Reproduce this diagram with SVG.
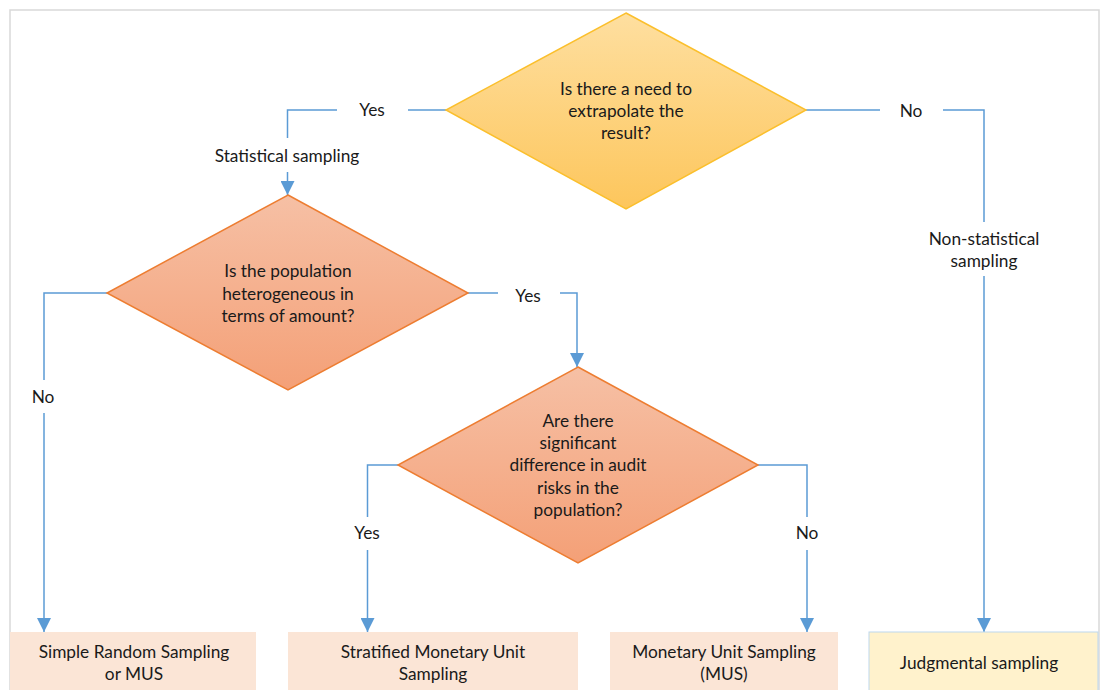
<svg xmlns="http://www.w3.org/2000/svg" width="1103" height="690" viewBox="0 0 1103 690">
  <style>
    text { font-family: Lato, "Liberation Sans", sans-serif; font-size: 17.3px; fill: #1a1a1a; text-anchor: middle; }
    .wire { fill: none; stroke: #5b9bd5; stroke-width: 1.5; }
    .box { fill: #fbe5d6; stroke: none; }
  </style>
  <defs>
    <linearGradient id="gold" x1="0" y1="0" x2="0" y2="1">
      <stop offset="0" stop-color="#fedfa0"/>
      <stop offset="1" stop-color="#fdc65c"/>
    </linearGradient>
    <linearGradient id="salmon" x1="0" y1="0" x2="0" y2="1">
      <stop offset="0" stop-color="#f6c0a5"/>
      <stop offset="1" stop-color="#f4a077"/>
    </linearGradient>
    <marker id="arrow" viewBox="0 0 14 14" refX="14" refY="7" markerWidth="14" markerHeight="14" markerUnits="userSpaceOnUse" orient="auto">
      <path d="M0,0 L14,7 L0,14 Z" fill="#5b9bd5"/>
    </marker>
  </defs>

  <rect x="10" y="10" width="1089" height="690" fill="#ffffff" stroke="#d9d9d9" stroke-width="1.5"/>

  <g id="connectors">
    <!-- top decision, Yes branch -->
    <path class="wire" d="M446,110 H408"/>
    <path class="wire" d="M337,110 H287.5 V138"/>
    <path class="wire" d="M287.5,172 V195" marker-end="url(#arrow)"/>
    <!-- top decision, No branch -->
    <path class="wire" d="M806,110 H880"/>
    <path class="wire" d="M943,110 H984 V222"/>
    <path class="wire" d="M984,276 V632" marker-end="url(#arrow)"/>
    <!-- population decision -->
    <path class="wire" d="M107,293 H44 V380"/>
    <path class="wire" d="M44,413 V632" marker-end="url(#arrow)"/>
    <path class="wire" d="M468,293 H498"/>
    <path class="wire" d="M560,293 H577 V367" marker-end="url(#arrow)"/>
    <!-- audit risk decision -->
    <path class="wire" d="M398,465 H367.5 V517"/>
    <path class="wire" d="M367.5,550 V632" marker-end="url(#arrow)"/>
    <path class="wire" d="M758,465 H807 V517"/>
    <path class="wire" d="M807,550 V632" marker-end="url(#arrow)"/>

    <text x="372" y="116">Yes</text>
    <text x="287" y="162">Statistical sampling</text>
    <text x="911" y="117">No</text>
    <text x="984" y="245">Non-statistical</text>
    <text x="984" y="267">sampling</text>
    <text x="43" y="403">No</text>
    <text x="528" y="302">Yes</text>
    <text x="367" y="539">Yes</text>
    <text x="807" y="539">No</text>
  </g>

  <g id="extrapolate">
    <polygon points="626,13 806,110 626,209 446,110" fill="url(#gold)" stroke="#fbbf2c" stroke-width="1.5"/>
    <text x="626" y="95">Is there a need to</text>
    <text x="626" y="117">extrapolate the</text>
    <text x="626" y="139">result?</text>
  </g>

  <g id="heterogeneous">
    <polygon points="288,195 468,293 288,390 107,293" fill="url(#salmon)" stroke="#ed7d31" stroke-width="1.5"/>
    <text x="288" y="277">Is the population</text>
    <text x="288" y="300">heterogeneous in</text>
    <text x="288" y="322">terms of amount?</text>
  </g>

  <g id="audit-risk">
    <polygon points="578,367 758,465 578,563 398,465" fill="url(#salmon)" stroke="#ed7d31" stroke-width="1.5"/>
    <text x="578" y="427">Are there</text>
    <text x="578" y="449">significant</text>
    <text x="578" y="471">difference in audit</text>
    <text x="578" y="494">risks in the</text>
    <text x="578" y="516">population?</text>
  </g>

  <g id="simple-random">
    <rect class="box" x="10" y="632" width="246" height="70"/>
    <text x="134" y="658">Simple Random Sampling</text>
    <text x="134" y="680">or MUS</text>
  </g>

  <g id="stratified-mus">
    <rect class="box" x="288" y="632" width="290" height="70"/>
    <text x="433" y="658">Stratified Monetary Unit</text>
    <text x="433" y="680">Sampling</text>
  </g>

  <g id="mus">
    <rect class="box" x="610" y="632" width="228" height="70"/>
    <text x="724" y="658">Monetary Unit Sampling</text>
    <text x="724" y="680">(MUS)</text>
  </g>

  <g id="judgmental">
    <rect x="869" y="632" width="229" height="70" fill="#fff2cc" stroke="#bdd7ee" stroke-width="1"/>
    <text x="979" y="669">Judgmental sampling</text>
  </g>
</svg>
